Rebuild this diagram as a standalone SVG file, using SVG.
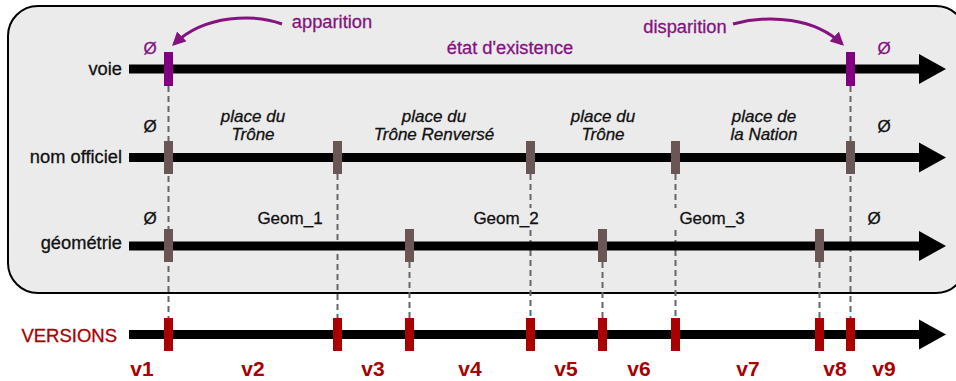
<svg xmlns="http://www.w3.org/2000/svg" width="956" height="381" viewBox="0 0 956 381">
<defs>
<style>
.t{font-family:"Liberation Sans",Arial,sans-serif;font-size:17px;fill:#111;stroke:#111;stroke-width:0.3}
.big{font-size:18.3px}
.i{font-style:italic;text-anchor:middle}
.m{text-anchor:middle}
.r{text-anchor:end}
.p{fill:#84137f;stroke:#84137f}
.red{fill:#aa0000;stroke:#aa0000}
.v{font-family:"Liberation Sans",Arial,sans-serif;font-size:21px;font-weight:bold;fill:#aa0000;text-anchor:middle}
.axis{stroke:#000;stroke-width:9;fill:none}
.dash{stroke:#666;stroke-width:2;stroke-dasharray:6 4;fill:none}
.tk{fill:#6b5656}
.tv{fill:#800080}
.tr{fill:#aa0000}
.curve{stroke:#84137f;stroke-width:3;fill:none}
</style>
<marker id="ah" viewBox="0 0 10 10" refX="8" refY="5" markerWidth="4.5" markerHeight="4.5" orient="auto" markerUnits="strokeWidth">
<path d="M0,0 L10,5 L0,10 z" fill="#84137f"/>
</marker>
<path id="head" d="M0,-15 L27,0 L0,15 z" fill="#000"/>
</defs>
<rect x="8" y="6" width="958" height="287" rx="30" ry="30" fill="#ebebeb" stroke="#000" stroke-width="2"/>

<g id="connectors">
<line class="dash" x1="168.5" y1="86" x2="168.5" y2="318"/>
<line class="dash" x1="337.5" y1="174" x2="337.5" y2="318"/>
<line class="dash" x1="409.5" y1="262" x2="409.5" y2="318"/>
<line class="dash" x1="530.5" y1="174" x2="530.5" y2="208"/>
<line class="dash" x1="530.5" y1="230" x2="530.5" y2="318"/>
<line class="dash" x1="602.5" y1="262" x2="602.5" y2="318"/>
<line class="dash" x1="675.5" y1="174" x2="675.5" y2="208"/>
<line class="dash" x1="675.5" y1="230" x2="675.5" y2="318"/>
<line class="dash" x1="819.5" y1="262" x2="819.5" y2="318"/>
<line class="dash" x1="850.5" y1="86" x2="850.5" y2="318"/>
<path class="curve" d="M282,24 C255,14 205,14 174,44" marker-end="url(#ah)"/>
<path class="curve" d="M733,24 C770,14 815,18 842,44" marker-end="url(#ah)"/>
</g>

<g id="voie">
<line class="axis" x1="129" y1="69" x2="922" y2="69"/>
<use href="#head" x="919" y="69"/>
<text class="t big r" x="122" y="75">voie</text>
<rect class="tv" x="164" y="52" width="9" height="34"/>
<rect class="tv" x="846" y="52" width="9" height="34"/>
<text class="t m p" x="150" y="54">Ø</text>
<text class="t big m p" x="510" y="54">état d'existence</text>
<text class="t m p" x="884" y="54">Ø</text>
<text class="t big m p" x="332" y="28">apparition</text>
<text class="t big m p" x="685" y="33">disparition</text>
</g>

<g id="nom-officiel">
<line class="axis" x1="129" y1="157.5" x2="922" y2="157.5"/>
<use href="#head" x="919" y="157.5"/>
<text class="t big r" x="122" y="163">nom officiel</text>
<rect class="tk" x="164" y="141" width="9" height="33"/>
<rect class="tk" x="333" y="141" width="9" height="33"/>
<rect class="tk" x="526" y="141" width="9" height="33"/>
<rect class="tk" x="671" y="141" width="9" height="33"/>
<rect class="tk" x="846" y="141" width="9" height="33"/>
<text class="t m" x="150" y="132">Ø</text>
<text class="t m" x="884" y="132">Ø</text>
<text class="t i" x="253" y="122">place du</text>
<text class="t i" x="253" y="140">Trône</text>
<text class="t i" x="434" y="122">place du</text>
<text class="t i" x="434" y="140">Trône Renversé</text>
<text class="t i" x="603" y="122">place du</text>
<text class="t i" x="603" y="140">Trône</text>
<text class="t i" x="764" y="122">place de</text>
<text class="t i" x="764" y="140">la Nation</text>
</g>

<g id="geometrie">
<line class="axis" x1="129" y1="246" x2="922" y2="246"/>
<use href="#head" x="919" y="246"/>
<text class="t big r" x="122" y="249">géométrie</text>
<rect class="tk" x="164" y="229" width="9" height="33"/>
<rect class="tk" x="405" y="229" width="9" height="33"/>
<rect class="tk" x="598" y="229" width="9" height="33"/>
<rect class="tk" x="815" y="229" width="9" height="33"/>
<text class="t m" x="150" y="224">Ø</text>
<text class="t m" x="874" y="224">Ø</text>
<text class="t m" x="290" y="224">Geom_1</text>
<text class="t m" x="506" y="224">Geom_2</text>
<text class="t m" x="712" y="224">Geom_3</text>
</g>

<g id="versions">
<line class="axis" x1="129" y1="334.5" x2="922" y2="334.5"/>
<use href="#head" x="919" y="334.5"/>
<text class="t r red" x="117" y="342" style="font-size:18.5px">VERSIONS</text>
<rect class="tr" x="164" y="318" width="9" height="33"/>
<rect class="tr" x="333" y="318" width="9" height="33"/>
<rect class="tr" x="405" y="318" width="9" height="33"/>
<rect class="tr" x="526" y="318" width="9" height="33"/>
<rect class="tr" x="598" y="318" width="9" height="33"/>
<rect class="tr" x="671" y="318" width="9" height="33"/>
<rect class="tr" x="815" y="318" width="9" height="33"/>
<rect class="tr" x="846" y="318" width="9" height="33"/>
<text class="v" x="142" y="376">v1</text>
<text class="v" x="253" y="376">v2</text>
<text class="v" x="373" y="376">v3</text>
<text class="v" x="470" y="376">v4</text>
<text class="v" x="566" y="376">v5</text>
<text class="v" x="639" y="376">v6</text>
<text class="v" x="748" y="376">v7</text>
<text class="v" x="835" y="376">v8</text>
<text class="v" x="884" y="376">v9</text>
</g>
</svg>
